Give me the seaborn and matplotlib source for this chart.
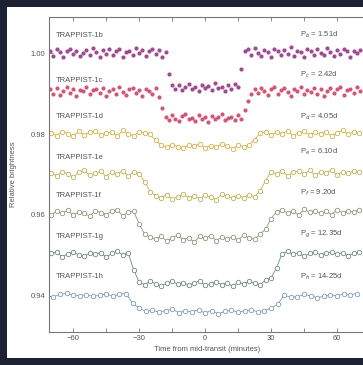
import numpy as np
import pandas as pd
import matplotlib
matplotlib.use('Agg')
import matplotlib.pyplot as plt
import seaborn as sns

# planets, labels and display offsets (relative brightness of each baseline)
planets = ['b', 'c', 'd', 'e', 'f', 'g', 'h']
periods = ['1.51d', '2.42d', '4.05d', '6.10d', '9.20d', '12.35d', '14-25d']
baselines = [1.0000, 0.9904, 0.9800, 0.9700, 0.9603, 0.9500, 0.9400]
colors = ['#8e2a80', '#c83a5e', '#d4b04c', '#bdb35a', '#8c9a7c', '#6e8a82', '#7f9db8']

# cadence of each light curve (first time, step, minutes)
t_start = [-70.5, -70.5, -70.0, -70.0, -70.0, -70.0, -69.0]
t_step = [1.5, 1.5, 2.5, 2.5, 2.5, 2.5, 3.0]

# flux relative to baseline, units of 1e-4
flux_b = [5, -7, 9, 2, -10, 4, 11, -3, 6, -8, 0, 8, -5, 12, 3, -9, 7, -2, 10, -6,
          4, 9, -11, 2, 6, -4, 13, -1, 8, -7, 5, 10, -3, 7, -9, 3,
          -52,
          -80, -88, -79, -92, -83, -76, -89, -85, -95, -78, -86, -82, -91, -74, -87,
          -84, -93, -80, -88, -77, -85,
          -40,
          4, 9, -6, 12, 1, -8, 7, 3, -10, 11, 5, -4, 8, -2, 14, -7, 6, 2, -9, 10,
          4, -5, 9, 0, -6, 12, 3, -8, 7, -3, 11, 5, -10, 6, 1, 8]
flux_c = [6, -4, 9, -8, 3, 11, -2, 7, -10, 5, 1, 12, -6, 4, 8, -3, 10, -9, 2, 7,
          -5, 13, 0, -7, 6, 9, -2, 4, -11, 8, 3, -6, 10,
          -12, -40,
          -62, -70, -58, -66, -73, -60, -55, -68, -64, -71, -57, -66, -62, -75, -59,
          -67, -63, -54, -70, -65, -61, -69, -58, -66,
          -45, -22, -5,
          7, -3, 10, 2, -8, 6, 12, -5, 4, 9, -1, -9, 8, 3, 11, -6, 5, 0, 10, -4,
          7, -10, 2, 9, -3, 6, 13, -7, 4, 8, -2, 11, 1]
flux_d = [3, -4, 6, 1, -5, 7, -2, 4, 8, -3, 2, 5, -6, 9, 0, -4, 6, 3, -1,
          -15,
          -28, -33, -26, -31, -35, -27, -30, -24, -34, -29, -32, -25, -30, -36, -28,
          -31, -27,
          -14,
          2, 6, -3, 5, 1, 8, -4, 3, 7, -2, 4, 0, 6, -5, 3, 9, -1, 5, 2]
flux_e = [4, -3, 7, 2, -6, 5, 10, -2, 3, 8, -5, 6, 1, 9, -4, 7, 2,
          -18, -42,
          -52, -58, -50, -61, -55, -48, -57, -53, -60, -51, -56, -62, -49, -54, -58,
          -52, -57, -50, -55,
          -40, -15,
          6, 2, 9, -3, 5, 8, 1, 10, -2, 6, 4, 11, -1, 7, 3, 8, 5]
flux_f = [-3, 6, 2, 9, -4, 5, 1, -6, 8, 3, -2, 7, 10, -5, 4, 6,
          -25, -50,
          -58, -63, -55, -67, -60, -52, -64, -59, -70, -56, -61, -54, -66, -58, -62,
          -57, -65, -53, -60, -63, -50,
          -38, -12,
          5, 9, 2, 7, -3, 11, 4, 8, 1, 6, -2, 10, 3, 7, 5, 9]
flux_g = [5, 8, -3, 4, 9, 1, -2, 6, 3, 7, -4, 5, 10, 2, 6,
          -35,
          -66, -72, -63, -70, -75, -68, -64, -71, -67, -73, -69, -62, -74, -70, -65,
          -72, -68, -76, -66, -71, -63, -69, -73, -60, -55,
          -30,
          4, 10, 3, 7, -2, 5, 9, 1, 6, 8, 3, 7, -1, 5, 8]
flux_h = [-2, 4, 7, 2, 1, 3, -1, 2, 5, 0, 4, 6,
          -18,
          -30, -38, -35, -40, -36, -33, -41, -37, -39, -34, -42, -36, -44, -38, -35,
          -40, -37, -34, -39, -36, -30,
          -20, 2,
          -3, -2, 4, 0, -4, -1, 2, 1, 5, 3, 6]
fluxes = [flux_b, flux_c, flux_d, flux_e, flux_f, flux_g, flux_h]

frames = []
for p, base, t0, dt, fl in zip(planets, baselines, t_start, t_step, fluxes):
    t = t0 + dt * np.arange(len(fl))
    frames.append(pd.DataFrame({'planet': p, 'time': t,
                                'flux': base + np.array(fl) * 1e-4}))
df = pd.concat(frames, ignore_index=True)

sns.set_style('ticks')
plt.rcParams['font.family'] = ['Liberation Sans Narrow', 'Liberation Sans', 'DejaVu Sans']

fig = plt.figure(figsize=(3.63, 3.65), dpi=100, facecolor='#1c2232')
fig.patches.append(plt.Rectangle((0.019, 0.019), 1.0, 0.962, transform=fig.transFigure,
                                 facecolor='white', edgecolor='none', zorder=-10))
ax = fig.add_axes([49 / 363, 33 / 365, 321 / 363, 315 / 365])

for i, p in enumerate(planets):
    sub = df[df['planet'] == p]
    if p in ('b', 'c'):
        sns.scatterplot(data=sub, x='time', y='flux', color=colors[i], s=9,
                        linewidth=0, alpha=0.85, ax=ax)
    else:
        sns.lineplot(data=sub, x='time', y='flux', color=colors[i], linewidth=0.6,
                     marker='o', markersize=3.2, markerfacecolor='white',
                     markeredgecolor=colors[i], markeredgewidth=0.6, ax=ax)

# planet name and period labels
name_y = [1.0044, 0.9933, 0.9842, 0.9741, 0.9649, 0.9546, 0.9447]
per_y = [1.0044, 0.9946, 0.9842, 0.9756, 0.9654, 0.9551, 0.9447]
for i, p in enumerate(planets):
    ax.text(-67.7, name_y[i], 'TRAPPIST-1' + p, fontsize=5.5, color='#555555',
            va='center', ha='left')
    ax.text(43, per_y[i], 'P$_{' + p + '}$ = ' + periods[i], fontsize=5.5,
            color='#555555', va='center', ha='left')

ax.set_xlim(-71, 75)
ax.set_ylim(0.93111, 1.00889)
ax.set_xticks([-60, -30, 0, 30, 60])
ax.set_xticks([-45, -15, 15, 45], minor=True)
ax.set_yticks([0.94, 0.96, 0.98, 1.00])
ax.set_yticklabels(['0.94', '0.96', '0.98', '1.00'])
ax.tick_params(which='both', direction='in', top=True, length=3, width=0.6,
               color='#777777', labelsize=5.5, labelcolor='#555555', pad=2.5)
for s in ax.spines.values():
    s.set_color('#777777')
    s.set_linewidth(0.8)
ax.set_xlabel('Time from mid-transit (minutes)', fontsize=5.5, color='#555555')
ax.set_ylabel('Relative brightness', fontsize=5.5, color='#555555')
ax.xaxis.set_label_coords(0.492, -0.045)
ax.yaxis.set_label_coords(-0.100, 0.5)

fig.savefig('out.png', dpi=100, facecolor=fig.get_facecolor())
